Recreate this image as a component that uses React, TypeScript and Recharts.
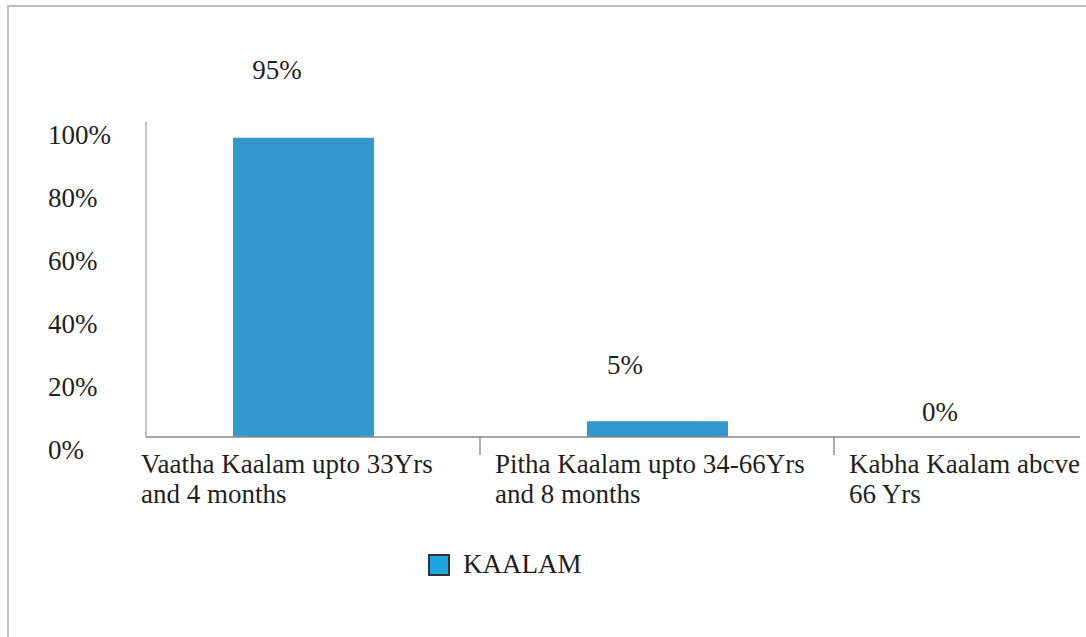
import React from 'react';
import { ComposedChart, Bar, Line, XAxis, YAxis, Legend, LabelList } from 'recharts';

// Age-period categories (two-line tick labels split on "\n")
const categories = [
  'Vaatha Kaalam upto 33Yrs\nand 4 months',
  'Pitha Kaalam upto 34-66Yrs\nand 8 months',
  'Kabha Kaalam abcve\n66 Yrs',
];
// Share of subjects per period
const kaalamValues = [0.95, 0.05, 0];
const yTicks = [0, 0.2, 0.4, 0.6, 0.8, 1];
const seriesName = 'KAALAM';

const data = categories.map((c, i) => ({ name: c, KAALAM: kaalamValues[i] }));

const FONT = '"Liberation Serif", "Times New Roman", serif';
const TEXT = '#1f1f1f';
const BAR = '#3498cc';

const pct = (v: number) => `${Math.round(v * 100)}%`;

// Value labels sit up and to the left of each bar top
const LABEL_NUDGE = [
  { dx: -26, dy: -59 },
  { dx: -32, dy: -47 },
  { dx: -71, dy: -16 },
];

const ValueLabel = (props: any) => {
  const { x, y, width, value, index } = props;
  const n = LABEL_NUDGE[index] || { dx: 0, dy: -10 };
  return (
    <text
      x={x + (width || 0) / 2 + n.dx}
      y={y + n.dy}
      textAnchor="middle"
      fontFamily={FONT}
      fontSize={27}
      fill={TEXT}
    >
      {pct(value)}
    </text>
  );
};

const YTick = (props: any) => {
  const { x, y, payload } = props;
  return (
    <text x={x - 98} y={y + 22} textAnchor="start" fontFamily={FONT} fontSize={27} fill={TEXT}>
      {pct(payload.value)}
    </text>
  );
};

const XTick = (props: any) => {
  const { x, y, payload, index } = props;
  const half = payload.offset || 177;
  const left = x - half;
  const lines = String(payload.value).split('\n');
  return (
    <g>
      {index > 0 && <line x1={left} x2={left} y1={y} y2={y + 18} stroke="#777" strokeWidth={1.2} />}
      {lines.map((ln, i) => (
        <text
          key={i}
          x={left + 15}
          y={y + 36 + i * 30}
          textAnchor="start"
          fontFamily={FONT}
          fontSize={27}
          fill={TEXT}
        >
          {ln}
        </text>
      ))}
    </g>
  );
};

const LegendBox = () => (
  <div style={{ display: 'flex', alignItems: 'center', fontFamily: FONT, fontSize: 27, color: TEXT }}>
    <span
      style={{
        display: 'inline-block',
        width: 18,
        height: 18,
        background: '#1ea6e2',
        border: '2px solid #333',
        marginRight: 13,
      }}
    />
    <span>{seriesName}</span>
  </div>
);

export default function App() {
  return (
    <div style={{ position: 'absolute', left: 0, top: 0, width: 1086, height: 637, background: '#fff' }}>
      <div
        style={{
          position: 'absolute',
          left: 7,
          top: 5,
          width: 1079,
          height: 632,
          borderTop: '2px solid #bdbdbd',
          borderLeft: '2px solid #c4c4c4',
          boxSizing: 'border-box',
        }}
      />
      <div style={{ position: 'absolute', left: 0, top: 0 }}>
        <ComposedChart
          width={1086}
          height={637}
          data={data}
          margin={{ top: 122, right: 6, bottom: 74, left: 0 }}
        >
          <YAxis
            width={146}
            domain={[0, 1]}
            ticks={yTicks}
            tick={<YTick />}
            tickLine={false}
            tickSize={0}
            tickMargin={0}
            axisLine={{ stroke: '#999', strokeWidth: 1.2 }}
          />
          <XAxis
            dataKey="name"
            height={90}
            interval={0}
            padding={{ left: -20, right: -108 }}
            tick={<XTick />}
            tickLine={false}
            tickSize={0}
            tickMargin={0}
            axisLine={{ stroke: '#888', strokeWidth: 1.5 }}
          />
          <Legend
            verticalAlign="bottom"
            content={<LegendBox />}
            wrapperStyle={{ left: 428, top: 549, bottom: 'auto', width: 220, height: 36 }}
          />
          <Bar dataKey="KAALAM" name={seriesName} fill={BAR} barSize={141} isAnimationActive={false} />
          {/* invisible carrier for the value labels, so the 0% entry is labelled too */}
          <Line
            dataKey="KAALAM"
            stroke="none"
            dot={false}
            activeDot={false}
            legendType="none"
            isAnimationActive={false}
          >
            <LabelList dataKey="KAALAM" content={<ValueLabel />} />
          </Line>
        </ComposedChart>
      </div>
    </div>
  );
}
